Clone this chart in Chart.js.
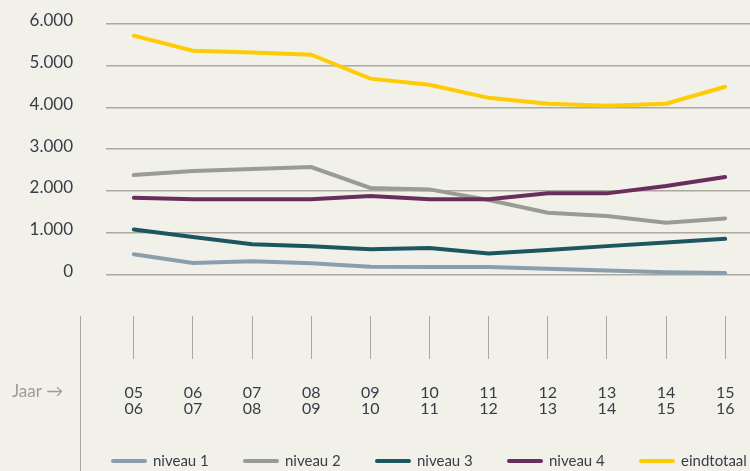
<!DOCTYPE html>
<html lang="nl">
<head>
<meta charset="utf-8">
<title>Aantal per niveau</title>
<script src="https://cdn.jsdelivr.net/npm/chart.js@4.4.1/dist/chart.umd.min.js"></script>
<style>
  html, body { margin: 0; padding: 0; background: #f1f1ea; }
  .wrap { width: 750px; height: 471px; position: relative; }
</style>
</head>
<body>
<div class="wrap"><canvas id="myChart"></canvas></div>
<script>
// schooljaren, two lines per label
const jaren = [['05','06'], ['06','07'], ['07','08'], ['08','09'], ['09','10'], ['10','11'],
               ['11','12'], ['12','13'], ['13','14'], ['14','15'], ['15','16']];

const niveau1 = [480, 270, 310, 265, 180, 175, 175, 130, 90, 50, 30];
const niveau2 = [2380, 2475, 2525, 2570, 2070, 2035, 1780, 1475, 1395, 1235, 1340];
const niveau3 = [1075, 895, 720, 675, 600, 630, 500, 585, 675, 760, 850];
const niveau4 = [1835, 1800, 1800, 1800, 1875, 1800, 1800, 1940, 1940, 2115, 2330];
const eindtotaal = [5720, 5360, 5315, 5265, 4690, 4545, 4230, 4090, 4040, 4090, 4495];

const yTicks = [0, 1000, 2000, 3000, 4000, 5000, 6000];

const textColor = '#3b3b48';
const lineColor = '#a9a9a0';

function punten(values) {
  return values.map((v, i) => ({ x: i, y: v }));
}

function serie(label, values, color, order) {
  return {
    label: label,
    data: punten(values),
    borderColor: color,
    backgroundColor: color,
    borderWidth: 4,
    borderCapStyle: 'round',
    pointRadius: 0,
    tension: 0,
    order: order
  };
}

// 6000 -> "6.000"
function formatNum(v) {
  return String(v).replace(/\B(?=(\d{3})+(?!\d))/g, '.');
}

// "Jaar ->" label, separator line and legend underneath
const extras = {
  id: 'extras',
  afterDraw(chart) {
    const ctx = chart.ctx;
    const area = chart.chartArea;
    ctx.save();
    ctx.strokeStyle = lineColor;
    ctx.lineWidth = 1;
    ctx.beginPath();
    ctx.moveTo(80.5, area.bottom);
    ctx.lineTo(80.5, chart.height);
    ctx.stroke();

    ctx.font = '17px Lato';
    ctx.fillStyle = '#9c9c94';
    ctx.textBaseline = 'middle';
    ctx.textAlign = 'left';
    ctx.fillText('Jaar \u2192', 12, 392);

    // legend
    ctx.font = '15px Lato';
    ctx.fillStyle = textColor;
    chart.data.datasets.forEach((ds, i) => {
      const x = 111 + i * 132;
      const y = 461;
      ctx.strokeStyle = ds.borderColor;
      ctx.lineWidth = 4;
      ctx.lineCap = 'round';
      ctx.beginPath();
      ctx.moveTo(x + 2, y);
      ctx.lineTo(x + 34, y);
      ctx.stroke();
      ctx.fillText(ds.label, x + 42, y);
    });
    ctx.restore();
  }
};

new Chart(document.getElementById('myChart'), {
  type: 'line',
  data: {
    datasets: [
      serie('niveau 1', niveau1, '#8a9fae', 5),
      serie('niveau 2', niveau2, '#9a9b92', 4),
      serie('niveau 3', niveau3, '#1d5560', 3),
      serie('niveau 4', niveau4, '#6b2d5d', 2),
      serie('eindtotaal', eindtotaal, '#ffcb05', 1)
    ]
  },
  options: {
    responsive: true,
    maintainAspectRatio: false,
    animation: false,
    layout: { padding: { top: 24, right: 0, bottom: 0, left: 0 } },
    plugins: {
      legend: { display: false },
      tooltip: { enabled: false }
    },
    scales: {
      x: {
        type: 'linear',
        min: -0.47,
        max: 10.42,
        border: { display: false },
        grid: {
          drawOnChartArea: false,
          drawTicks: true,
          tickLength: 43,
          color: lineColor,
          lineWidth: 1
        },
        afterBuildTicks(scale) {
          scale.ticks = jaren.map((_, i) => ({ value: i }));
        },
        afterFit(scale) {
          scale.height = 155;
          scale.paddingLeft = 0;
          scale.paddingRight = 0;
        },
        ticks: {
          autoSkip: false,
          maxRotation: 0,
          padding: 25,
          color: textColor,
          font: { family: 'Lato', size: 16, lineHeight: 1.05 },
          callback: (v) => jaren[v]
        }
      },
      y: {
        min: -1000,
        max: 6000,
        border: { display: false },
        grid: {
          drawTicks: false,
          color: (c) => c.tick && c.tick.value < 0 ? 'rgba(0,0,0,0)' : lineColor,
          lineWidth: 1.5
        },
        afterBuildTicks(scale) {
          scale.ticks = [-1000].concat(yTicks).map(v => ({ value: v }));
        },
        afterFit(scale) {
          scale.width = 106;
          scale.paddingTop = 0;
          scale.paddingBottom = 0;
        },
        ticks: {
          padding: 33,
          labelOffset: -3,
          color: textColor,
          font: { family: 'Lato', size: 17 },
          callback: (v) => v < 0 ? '' : formatNum(v)
        }
      }
    }
  },
  plugins: [extras]
});
</script>
</body>
</html>
